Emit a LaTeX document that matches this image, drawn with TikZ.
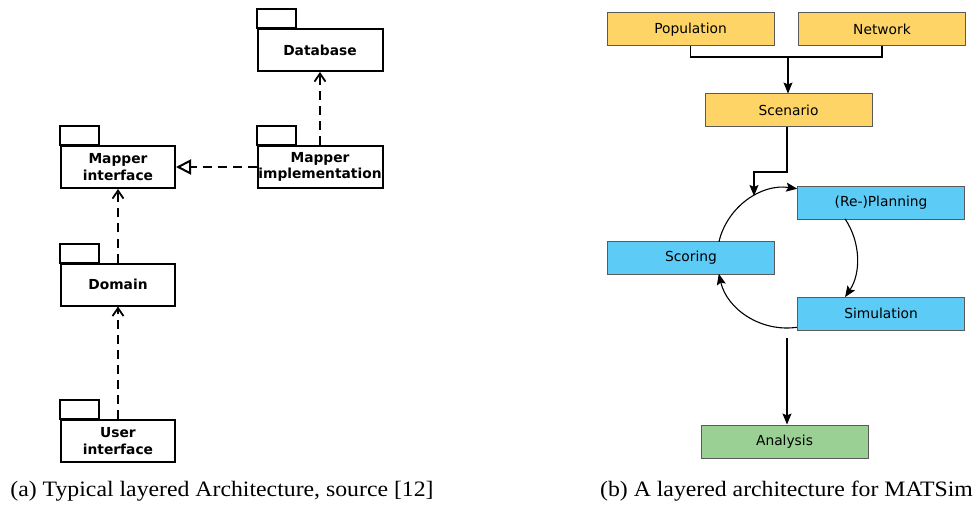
\documentclass[tikz,border=0pt]{standalone}
\usepackage{fontspec}
\setmainfont{Liberation Serif}
\newfontfamily\boxfont{DejaVu Sans}
\usetikzlibrary{arrows.meta}
\definecolor{ylw}{RGB}{254,212,102}
\definecolor{blu}{RGB}{92,203,245}
\definecolor{grn}{RGB}{155,208,148}
\definecolor{bdr}{RGB}{90,90,90}
\tikzset{
  pkg/.style={draw, line width=2pt, fill=white, inner sep=0pt, minimum height=42pt,
     align=center, font=\boxfont\bfseries\fontsize{13.8}{16.5}\selectfont},
  pkgtab/.style={draw, line width=2pt},
  dep/.style={line width=2pt, dash pattern=on 9pt off 6pt, -{Straight Barb[length=8pt,width=11pt,line width=1.8pt]}},
  real/.style={line width=2pt, dash pattern=on 9pt off 6pt, -{Triangle[open,length=15pt,width=15pt,line width=2pt]}},
  mbox/.style={draw=bdr, line width=1pt, minimum width=167pt, minimum height=33pt, inner sep=0pt,
     font=\boxfont\fontsize{13.8}{16}\selectfont},
  flow/.style={line width=1.1pt, -{Stealth[length=11pt,width=9pt,inset=2pt]}},
  plain/.style={line width=1.1pt},
  capt/.style={font=\fontsize{22}{26}\selectfont, anchor=base, inner sep=0pt, xscale=1.08}
}
\begin{document}
\begin{tikzpicture}[x=1pt,y=1pt]
\useasboundingbox (0,0) rectangle (977,-505);
% ---------- left: packages ----------
\node[pkg, minimum width=125pt] (db) at (320,-50) {Database};
\node[pkg, minimum width=114pt] (mi) at (118,-167) {Mapper\\interface};
\node[pkg, minimum width=125pt] (mim) at (320,-167) {Mapper\\implementation};
\node[pkg, minimum width=114pt] (dom) at (118,-284.5) {Domain};
\node[pkg, minimum width=114pt] (ui) at (118,-441) {User\\interface};
\foreach \p in {db,mi,mim,dom,ui}{
  \draw[pkgtab] (\p.north west) rectangle ++(39,19);
}
\draw[dep] (mim.north) -- (db.south);
\draw[real] (mim.west) -- (mi.east);
\draw[dep] (dom.north) -- (mi.south);
\draw[dep] (ui.north) -- (dom.south);
\node[capt] (ca) at (222,-496) {(a) Typical layered Architecture, source [12]};
% ---------- right: MATSim ----------
\node[mbox, fill=ylw] (pop) at (690.5,-29.5) {Population};
\node[mbox, fill=ylw] (net) at (882,-29.5) {Network};
\node[mbox, fill=ylw] (scen) at (788.5,-110.5) {Scenario};
\node[mbox, fill=blu] (plan) at (881,-203) {(Re-)Planning};
\node[mbox, fill=blu] (scor) at (691,-258) {Scoring};
\node[mbox, fill=blu] (sim) at (881,-313.5) {Simulation};
\node[mbox, fill=grn] (ana) at (784.5,-441.5) {Analysis};
\coordinate (join) at (788,-57);
\coordinate (cc) at (787,-258);
\coordinate (loopin) at (754,-196);
\coordinate (simout) at (787,-338);
\draw[plain] (pop.south) |- (join) -| (net.south);
\draw[flow] (join) -- (join |- scen.north);
\draw[flow] (scen.south -| 787,0) |- (754,-172) -- (loopin);
\draw[flow] (cc) ++(166.6:70) arc[start angle=166.6, end angle=81.6, radius=70];
\draw[flow] (cc) ++(33.9:70) arc[start angle=33.9, end angle=-33.9, radius=70];
\draw[flow] (cc) ++(-81.9:70) arc[start angle=-81.9, end angle=-167, radius=70];
\draw[flow] (simout) -- (simout |- ana.north);
\node[capt] (cb) at (786.5,-496) {(b) A layered architecture for MATSim};
\end{tikzpicture}
\end{document}
